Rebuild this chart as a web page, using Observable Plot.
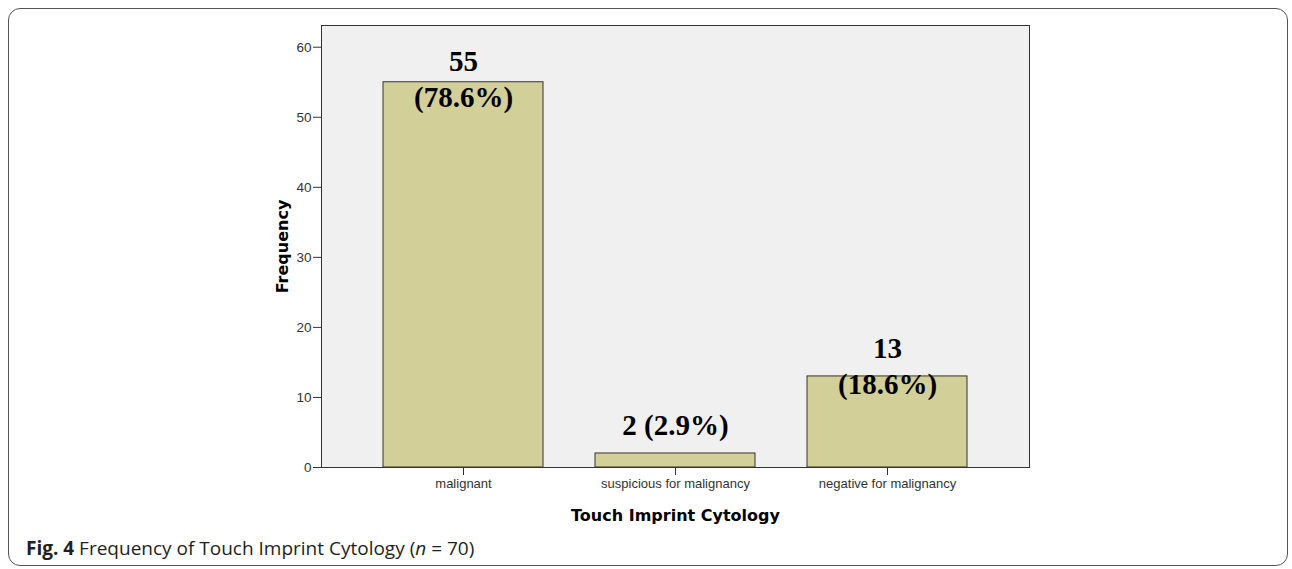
<!DOCTYPE html>
<html>
<head>
<meta charset="utf-8">
<script src="https://cdn.jsdelivr.net/npm/d3@7"></script>
<script src="https://cdn.jsdelivr.net/npm/@observablehq/plot@0.6"></script>
<style>
  html, body { margin: 0; padding: 0; background: #fff; }
  #wrap { position: relative; width: 1292px; height: 569px; overflow: hidden; }
  #border { position: absolute; left: 8px; top: 8px; width: 1280px; height: 558px;
            border: 1.5px solid #555; border-radius: 12px; box-sizing: border-box; }
  #chart { position: absolute; left: 0; top: 0; }
  #caption { position: absolute; left: 26px; top: 535px; font-family: "Open Sans", sans-serif;
             font-size: 19px; color: #231f20; white-space: nowrap; }
  #caption b { font-weight: 700; }
</style>
</head>
<body>
<div id="wrap">
  <div id="border"></div>
  <div id="chart"></div>
  <div id="caption"><b>Fig. 4</b> Frequency of Touch Imprint Cytology (<i>n</i> = 70)</div>
</div>
<script>
const categories = ["malignant", "suspicious for malignancy", "negative for malignancy"];
const frequencies = [55, 2, 13];
const barLabels = ["55\n(78.6%)", "2 (2.9%)", "13\n(18.6%)"];
const yTicks = [0, 10, 20, 30, 40, 50, 60];
const xTitle = "Touch Imprint Cytology";
const yTitle = "Frequency";

const data = categories.map((c, i) => ({category: c, frequency: frequencies[i], label: barLabels[i]}));

const labelStyle = {x: "category", y: "frequency", text: "label", fontFamily: "Liberation Serif, Times New Roman, serif",
  fontWeight: "bold", fontSize: 29, lineHeight: 1.24, fill: "#000"};

const chart = Plot.plot({
  width: 1292,
  height: 530,
  marginLeft: 321,
  marginRight: 263,
  marginTop: 25,
  marginBottom: 63,
  style: {fontFamily: "Liberation Sans, Arial, sans-serif", background: "transparent", color: "#333"},
  x: {domain: categories, paddingInner: 0.247, paddingOuter: 0.29, label: null},
  y: {domain: [0, 63.1], label: null},
  marks: [
    Plot.frame({fill: "#f0f0f0"}),
    Plot.barY(data, {x: "category", y: "frequency", fill: "#d3cf98", stroke: "#333", strokeWidth: 1}),
    Plot.frame({stroke: "#333", strokeWidth: 1}),
    Plot.axisY({ticks: yTicks, tickSize: 8, tickPadding: 2, fontSize: 13.5, label: null, stroke: "#333"}),
    Plot.axisX({tickSize: 8, tickPadding: 3, fontSize: 13, label: null, stroke: "#333"}),
    Plot.text(data, {...labelStyle, filter: d => d.category === categories[0], dy: -5}),
    Plot.text(data, {...labelStyle, filter: d => d.category === categories[1], dy: -30}),
    Plot.text(data, {...labelStyle, filter: d => d.category === categories[2], dy: -12}),
    Plot.text([yTitle], {frameAnchor: "left", textAnchor: "middle", dx: -39, rotate: -90, fontSize: 16, fontWeight: "bold",
      fontFamily: "DejaVu Sans, Verdana, sans-serif", fill: "#000"}),
    Plot.text([xTitle], {frameAnchor: "bottom", dy: 53, fontSize: 16, fontWeight: "bold",
      fontFamily: "DejaVu Sans, Verdana, sans-serif", fill: "#000"})
  ]
});
document.getElementById("chart").appendChild(chart);
</script>
</body>
</html>
